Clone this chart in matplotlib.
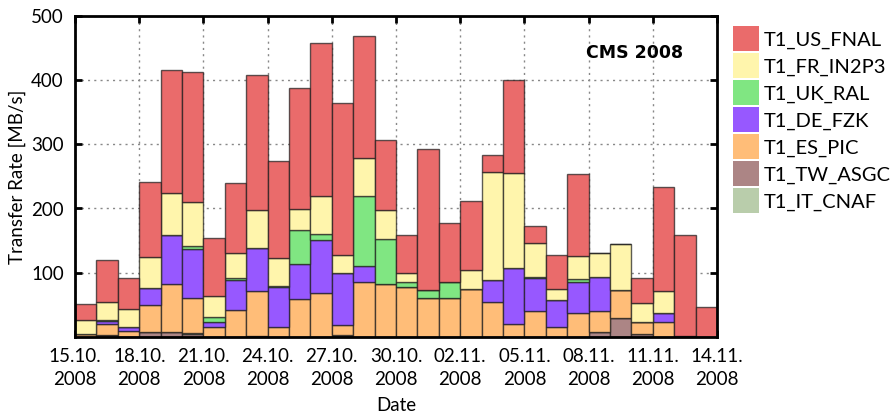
import matplotlib.pyplot as plt
import numpy as np

# days 15.10.2008 .. 13.11.2008, one bar per day
tick_labels = ['15.10.\n2008', '18.10.\n2008', '21.10.\n2008', '24.10.\n2008',
               '27.10.\n2008', '30.10.\n2008', '02.11.\n2008', '05.11.\n2008',
               '08.11.\n2008', '11.11.\n2008', '14.11.\n2008']

# MB/s per site, stacked bottom -> top
tw_asgc = [0, 3, 0, 8, 8, 5, 0, 0, 2, 0, 0, 0, 2, 0, 0, 0, 0, 0, 0, 0,
           0, 0, 0, 0, 7, 30, 5, 0, 2, 0]
it_cnaf = [0, 0, 0, 0, 0, 1, 0, 0, 0, 0, 0, 0, 1, 0, 0, 0, 0, 0, 0, 0,
           0, 0, 0, 0, 0, 0, 0, 0, 0, 0]
es_pic = [5, 17, 10, 41, 74, 55, 15, 42, 69, 15, 59, 68, 15, 86, 82, 78, 61, 61, 74, 54,
          20, 40, 15, 38, 33, 43, 18, 23, 0, 0]
de_fzk = [0, 5, 5, 27, 76, 76, 8, 46, 67, 62, 54, 83, 82, 25, 0, 0, 0, 0, 0, 34,
          88, 52, 42, 48, 54, 0, 0, 15, 0, 0]
uk_ral = [0, 1, 1, 0, 0, 4, 8, 4, 0, 2, 53, 10, 0, 108, 71, 8, 12, 24, 0, 0,
          0, 2, 0, 4, 0, 0, 0, 0, 0, 0]
fr_in2p3 = [22, 29, 27, 49, 66, 69, 32, 38, 60, 44, 34, 59, 27, 59, 44, 13, 0, 0, 30, 169,
            148, 52, 17, 36, 36, 71, 30, 34, 0, 0]
us_fnal = [25, 65, 48, 116, 191, 203, 91, 110, 210, 151, 188, 238, 238, 190, 109, 59, 220, 93, 108, 26,
           144, 26, 53, 127, 0, 0, 39, 161, 157, 46]

series = [('T1_TW_ASGC', tw_asgc, '#ac8585'),
          ('T1_IT_CNAF', it_cnaf, '#b9cdab'),
          ('T1_ES_PIC', es_pic, '#ffbd78'),
          ('T1_DE_FZK', de_fzk, '#9758ff'),
          ('T1_UK_RAL', uk_ral, '#80e682'),
          ('T1_FR_IN2P3', fr_in2p3, '#fff5ac'),
          ('T1_US_FNAL', us_fnal, '#ea6b6b')]
colors = {n: c for n, v, c in series}

plt.rcParams['font.family'] = ['Lato', 'DejaVu Sans']

fig = plt.figure(figsize=(8.96, 4.17), dpi=100)
ax = fig.add_axes([0.0837, 0.192, 0.7165, 0.770])

x = np.arange(len(us_fnal))
bottom = np.zeros(len(x))
for name, vals, col in series:
    vals = np.array(vals, dtype=float)
    ax.bar(x, vals, width=1.0, align='edge', bottom=bottom, color=col,
           edgecolor=(0.1, 0.1, 0.1, 0.7), linewidth=1.0, zorder=2)
    bottom += vals

ax.set_xlim(0, 30)
ax.set_ylim(0, 500)
ax.set_xticks(np.arange(0, 31, 3))
ax.set_xticklabels(tick_labels, fontsize=13.5, linespacing=1.45)
ax.set_yticks([100, 200, 300, 400, 500])
ax.set_yticklabels(['100', '200', '300', '400', '500'], fontsize=13.5)
ax.tick_params(direction='in', length=5, width=2, top=True, right=True, pad=8)
ax.grid(True, color='#888888', linestyle=(0, (1.5, 3)), linewidth=1, zorder=1)
ax.set_axisbelow(True)
for s in ax.spines.values():
    s.set_linewidth(2)

ax.set_xlabel('Date', fontsize=13.5, labelpad=6)
ax.set_ylabel('Transfer Rate [MB/s]', fontsize=13.5)

ax.text(0.872, 0.885, 'CMS 2008', transform=ax.transAxes, ha='center', va='center',
        fontsize=12.5, fontweight='bold', family='DejaVu Sans')

order = ['T1_US_FNAL', 'T1_FR_IN2P3', 'T1_UK_RAL', 'T1_DE_FZK',
         'T1_ES_PIC', 'T1_TW_ASGC', 'T1_IT_CNAF']
leg_patches = [plt.Rectangle((0, 0), 1, 1, facecolor=colors[n], edgecolor='none')
               for n in order]
fig.legend(leg_patches, order, loc='upper left', bbox_to_anchor=(0.818, 0.937),
           frameon=False, fontsize=14.5, handlelength=1.3, handleheight=1.53,
           handletextpad=0.25, labelspacing=0.1, borderaxespad=0, borderpad=0)

fig.savefig('out.png', dpi=100)
